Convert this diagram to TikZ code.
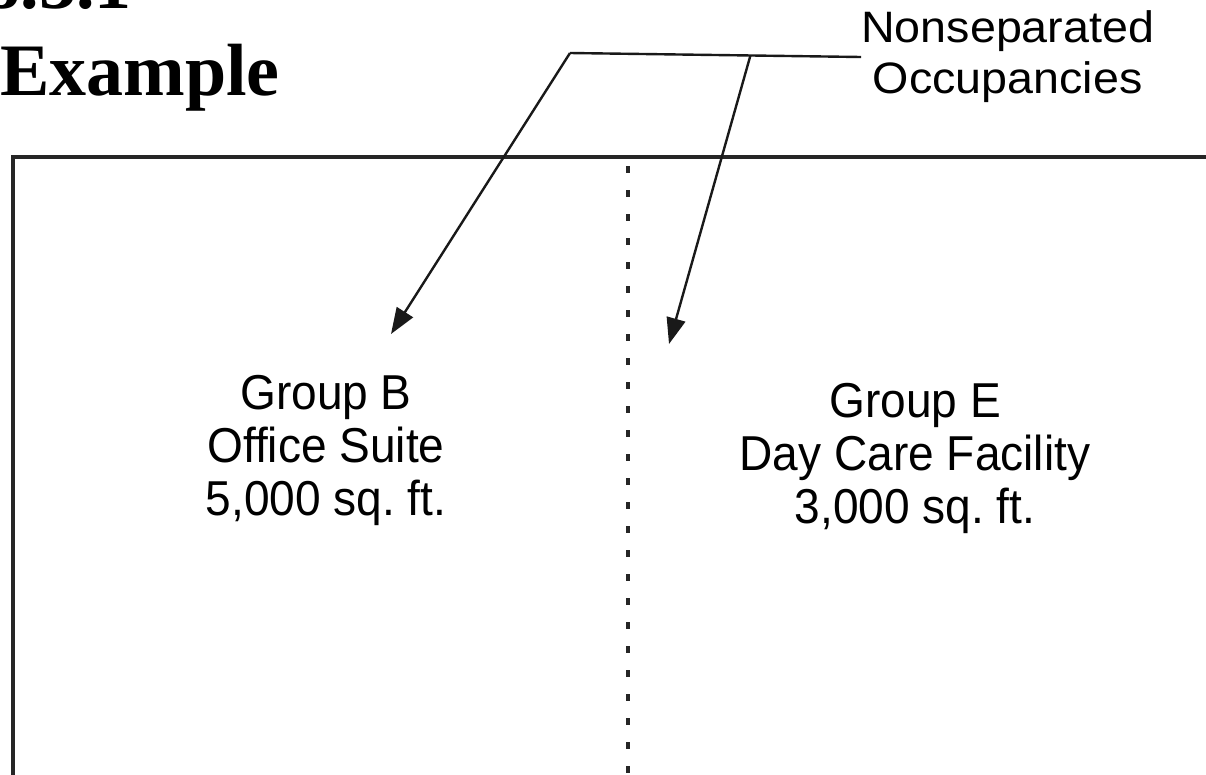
\documentclass[tikz,border=0pt]{standalone}
\usepackage{fontspec}
\setmainfont{Liberation Serif}
\setsansfont{Liberation Sans}
\newfontfamily\roomsans{Liberation Sans}[FakeStretch=0.94]
\newfontfamily\calloutsans{Liberation Sans}[FakeStretch=1.06]
\usepackage{tikz}
\usetikzlibrary{arrows.meta,positioning,calc}
\frenchspacing

\tikzset{
  wall/.style={line width=3.5pt,black!85},
  leader/.style={line width=2.4pt,black!90},
  arrowleader/.style={leader,-{Triangle[length=26pt,width=19pt]}},
  room/.style={align=center,inner sep=0pt,font=\roomsans\fontsize{49}{53}\selectfont},
  callout/.style={align=center,inner sep=0pt,font=\calloutsans\fontsize{44}{51}\selectfont},
  heading/.style={inner sep=0pt,font=\bfseries\fontsize{74}{74}\selectfont}
}

\begin{document}
\begin{tikzpicture}[x=1pt,y=-1pt]
\useasboundingbox (0,0) rectangle (1206,774);
\clip (0,0) rectangle (1206,774);

% Heading (cut off at the top)
\node[heading,anchor=base east] (secno) at (132,8) {508.3.1};
\node[heading,anchor=base west] (title) at (0,95) {Example};

% Building outline and the line between the two occupancies
\draw[wall] (13,780) -- (13,157) -- (1210,157);
\draw[black!85,line width=3.5pt,dash pattern=on 7pt off 17pt] (628,166) -- (628,780);

% Occupancies
\node[room] (grpB) at (326,450) {Group B\\Office Suite\\5,000 sq. ft.};
\node[room] (grpE) at (915,458) {Group E\\Day Care Facility\\3,000 sq. ft.};

% Callout with leaders
\node[callout,anchor=west] (nonsep) at (861,57) {Nonseparated\\Occupancies};
\coordinate (knee) at (570,53);
\coordinate (fork) at ($(knee)!0.62!(nonsep.west)$);
\coordinate (tipB) at (391,334);
\coordinate (tipE) at (669,344);
\draw[leader] (nonsep.west) -- (knee);
\draw[arrowleader] (knee) -- (tipB);
\draw[arrowleader] (fork) -- (tipE);
\end{tikzpicture}
\end{document}
